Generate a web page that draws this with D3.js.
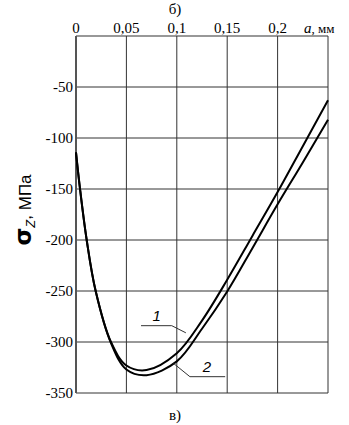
<!DOCTYPE html>
<meta charset="utf-8" />
<head>
  <style>
    body { margin: 0; background: #fff; }
    svg, svg text { font-family: "Liberation Serif", "Times New Roman", Times, serif; }
  </style>
</head>
<script src="https://d3js.org/d3.v7.min.js"></script>
<body>
  <div id="chart"></div>
  <script>
    // depth a, mm and stress sigma_z, MPa for curves 1 and 2
    const depth = [0, 0.004, 0.0106, 0.0195, 0.0347, 0.05, 0.07, 0.1, 0.125, 0.15, 0.175, 0.2, 0.225, 0.25];
    const sigma1 = [-114, -150, -200, -250, -300, -323, -327.5, -311, -279, -239, -196, -153, -108, -63];
    const sigma2 = [-114, -150, -200, -250, -301, -327, -332.5, -319, -287, -250.5, -208, -165, -124, -82];

    const xTicks = [0, 0.05, 0.1, 0.15, 0.2];
    const xTickLabels = ["0", "0,05", "0,1", "0,15", "0,2"];
    const yTicks = [-50, -100, -150, -200, -250, -300, -350];

    const svgWidth = 349;
    const svgHeight = 425;
    const margin = { left: 76, right: 21, top: 36, bottom: 32 };
    const width = svgWidth - margin.left - margin.right;
    const height = svgHeight - margin.top - margin.bottom;

    const svg = d3
      .select("#chart")
      .append("svg")
      .attr("width", svgWidth)
      .attr("height", svgHeight)
      .attr("font-family", "Liberation Serif, serif");

    const g = svg.append("g")
      .attr("transform", "translate(" + margin.left + "," + margin.top + ")");

    const x = d3.scaleLinear().domain([0, 0.25]).range([0, width]);
    const y = d3.scaleLinear().domain([0, -350]).range([0, height]);

    // grid
    g.selectAll(".vgrid")
      .data(xTicks.slice(1).concat([0.25]))
      .join("line")
      .attr("x1", (d) => x(d)).attr("x2", (d) => x(d))
      .attr("y1", 0).attr("y2", height)
      .attr("stroke", "#333").attr("stroke-width", 1);

    g.selectAll(".hgrid")
      .data(yTicks)
      .join("line")
      .attr("x1", 0).attr("x2", width)
      .attr("y1", (d) => y(d)).attr("y2", (d) => y(d))
      .attr("stroke", "#333").attr("stroke-width", 1);

    // axes lines
    g.append("line").attr("x1", 0).attr("x2", width).attr("y1", 0).attr("y2", 0)
      .attr("stroke", "#333").attr("stroke-width", 1.2);
    g.append("line").attr("x1", 0).attr("x2", 0).attr("y1", 0).attr("y2", height)
      .attr("stroke", "#555").attr("stroke-width", 2);

    // tick labels
    g.selectAll(".xlab")
      .data(xTicks)
      .join("text")
      .attr("x", (d) => x(d))
      .attr("y", -3)
      .attr("text-anchor", "middle")
      .attr("font-size", 15)
      .text((d, i) => xTickLabels[i]);

    const aLabel = g.append("text")
      .attr("x", x(0.25) - 24).attr("y", -3)
      .attr("font-size", 15);
    aLabel.append("tspan").attr("font-style", "italic").text("a");
    aLabel.append("tspan").attr("font-size", 13).text(", мм");

    g.selectAll(".ylab")
      .data(yTicks)
      .join("text")
      .attr("x", -3)
      .attr("y", (d) => y(d))
      .attr("dy", "0.35em")
      .attr("text-anchor", "end")
      .attr("font-size", 15)
      .text((d) => d);

    // y axis title
    const yTitle = svg.append("text")
      .attr("transform", "translate(31,210) rotate(-90)")
      .attr("text-anchor", "middle")
      .attr("font-size", 17);
    yTitle.append("tspan").attr("style", "font-family: 'DejaVu Sans'").attr("font-size", 23).attr("font-weight", 700).text("σ");
    yTitle.append("tspan").attr("style", "font-family: 'Liberation Sans'").attr("font-style", "italic").attr("font-size", 13).attr("dy", 4).text("Z");
    yTitle.append("tspan").attr("style", "font-family: 'Liberation Sans'").attr("dy", -4).text(", МПа");

    // curves
    const line = d3.line()
      .x((d) => x(d[0]))
      .y((d) => y(d[1]))
      .curve(d3.curveCatmullRom.alpha(0.5));

    [sigma1, sigma2].forEach((ss) => {
      g.append("path")
        .datum(depth.map((d, i) => [d, ss[i]]))
        .attr("d", line)
        .attr("fill", "none")
        .attr("stroke", "#000")
        .attr("stroke-width", 2);
    });

    // leader lines and curve numbers
    const leaders = [
      [[0.0645, -284], [0.095, -284], [0.109, -291]],
      [[0.0968, -321], [0.113, -334], [0.148, -334]],
    ];
    leaders.forEach((pts) => {
      g.append("path")
        .attr("d", d3.line().x((d) => x(d[0])).y((d) => y(d[1]))(pts))
        .attr("fill", "none")
        .attr("stroke", "#333")
        .attr("stroke-width", 1);
    });
    g.append("text").attr("x", x(0.08)).attr("y", y(-279))
      .attr("style", "font-family: 'Liberation Sans'")
      .attr("font-style", "italic").attr("font-size", 15).attr("text-anchor", "middle").text("1");
    g.append("text").attr("x", x(0.13)).attr("y", y(-329))
      .attr("style", "font-family: 'Liberation Sans'")
      .attr("font-style", "italic").attr("font-size", 15).attr("text-anchor", "middle").text("2");

    // panel letters
    svg.append("text").attr("x", 175).attr("y", 14).attr("text-anchor", "middle")
      .attr("font-size", 15).text("б)");
    svg.append("text").attr("x", 175).attr("y", 420).attr("text-anchor", "middle")
      .attr("font-size", 15).text("в)");
  </script>
</body>
